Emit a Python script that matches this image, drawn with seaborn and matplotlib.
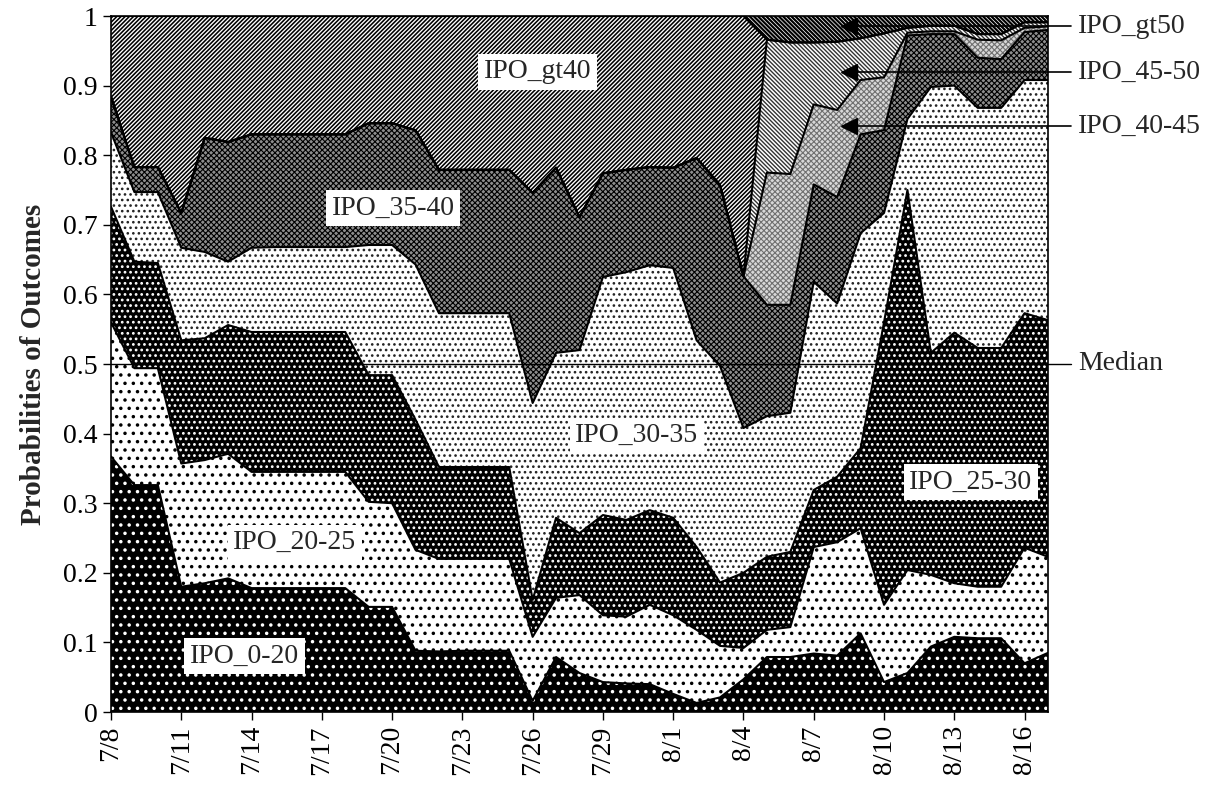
import numpy as np
import pandas as pd
import matplotlib
matplotlib.use("Agg")
import matplotlib.pyplot as plt
import seaborn as sns

# ---------------- data ----------------
dates = ["7/8", "7/9", "7/10", "7/11", "7/12", "7/13", "7/14", "7/15", "7/16", "7/17",
         "7/18", "7/19", "7/20", "7/21", "7/22", "7/23", "7/24", "7/25", "7/26", "7/27",
         "7/28", "7/29", "7/30", "7/31", "8/1", "8/2", "8/3", "8/4", "8/5", "8/6",
         "8/7", "8/8", "8/9", "8/10", "8/11", "8/12", "8/13", "8/14", "8/15", "8/16",
         "8/17"]

ipo_0_20 = [.367, .326, .326, .180, .185, .192, .178, .178, .178, .178, .178,
            .151, .151, .088, .087, .088, .088, .088, .016, .079, .056,
            .043, .041, .040, .026, .013, .021, .047, .079, .079, .084,
            .081, .113, .043, .056, .094, .108, .106, .106, .070, .085]
ipo_20_25 = [.193, .168, .168, .177, .177, .179, .167, .167, .167, .167, .167,
             .151, .149, .145, .133, .132, .132, .132, .092, .085, .112,
             .096, .096, .114, .113, .105, .074, .045, .039, .043, .153,
             .163, .151, .111, .148, .103, .077, .074, .074, .166, .138]
ipo_25_30 = [.166, .153, .151, .177, .175, .185, .201, .201, .201, .201, .201,
             .182, .184, .187, .132, .132, .132, .132, .053, .115, .089,
             .144, .139, .136, .140, .119, .091, .108, .105, .108, .082,
             .094, .115, .406, .546, .319, .360, .343, .343, .337, .340]
ipo_30_35 = [.107, .100, .102, .133, .124, .091, .121, .122, .122, .122, .122,
             .187, .187, .223, .221, .221, .221, .221, .283, .237, .263,
             .342, .356, .352, .359, .297, .311, .208, .202, .200, .299,
             .249, .309, .157, .102, .382, .355, .345, .345, .335, .345]
ipo_35_40 = [.051, .036, .036, .050, .164, .172, .163, .162, .162, .162, .162,
             .175, .175, .193, .206, .206, .206, .206, .302, .266, .191,
             .149, .147, .141, .144, .262, .260, .218, .160, .155, .140,
             .153, .142, .119, .120, .076, .074, .072, .070, .069, .072]
ipo_40_45 = [0] * 28 + [.190, .188, .115, .125, .078, .076, .004, .004, .004,
                        .026, .027, .006, .005]
ipo_45_50 = [0] * 28 + [.191, .189, .089, .098, .060, .063, .007, .008, .008,
                        .008, .009, .008, .006]
ipo_gt40 = [.116, .217, .217, .283, .175, .181, .170, .170, .170, .170, .170,
            .154, .154, .164, .221, .221, .221, .221, .254, .218, .289,
            .226, .221, .217, .218, .204, .243, .374] + [0] * 13
ipo_gt50 = [0] * 28 + [.034, .038, .038, .037, .032, .025, .017, .014, .014,
                       .026, .026, .009, .009]

series_names = ["IPO_0-20", "IPO_20-25", "IPO_25-30", "IPO_30-35", "IPO_35-40",
                "IPO_40-45", "IPO_45-50", "IPO_gt40", "IPO_gt50"]
series_vals = [ipo_0_20, ipo_20_25, ipo_25_30, ipo_30_35, ipo_35_40,
               ipo_40_45, ipo_45_50, ipo_gt40, ipo_gt50]

# ---------------- style ----------------
sns.set_theme(style="ticks")
plt.rcParams["font.family"] = ["Liberation Serif", "DejaVu Serif"]
plt.rcParams["hatch.linewidth"] = 1.3
plt.rcParams["axes.edgecolor"] = "black"
plt.rcParams["axes.linewidth"] = 1.2

# (facecolor, hatch colour, hatch, hatch linewidth)
styles = [
    ("black", "white", "..", 1.3),
    ("white", "black", "..", 1.3),
    ("black", "white", "...", 1.2),
    ("white", "#222222", "...", 1.1),
    ("#8e8e8e", "black", "xxxxxx", 0.8),
    ("#d8d8d8", "#707070", "xxxxxx", 0.8),
    ("white", "#333333", "\\\\\\\\\\\\\\\\", 1.0),
    ("white", "black", "////////", 1.15),
    ("white", "black", "\\\\\\\\\\\\\\\\", 1.6),
]

fig = plt.figure(figsize=(12.15, 7.88), dpi=100)
ax = fig.add_axes([111 / 1215, 1 - 712 / 788, (1048 - 111) / 1215, (712 - 16) / 788])

x = np.arange(len(dates))
vals = np.array(series_vals, dtype=float)
upper = np.cumsum(vals, axis=0)
lower = upper - vals

for lo, up, (fc, hc, h, hlw) in zip(lower, upper, styles):
    with plt.rc_context({"hatch.linewidth": hlw}):
        coll = ax.fill_between(x, lo, up, linewidth=0, facecolor=fc, edgecolor=hc, hatch=h)
        if hasattr(coll, "set_hatch_linewidth"):
            coll.set_hatch_linewidth(hlw)

# outlines of the stacked layers
rows = []
for k in range(len(series_names) - 1):
    for i in x:
        rows.append({"x": i, "y": upper[k, i], "b": series_names[k]})
df = pd.DataFrame(rows)
sns.lineplot(data=df, x="x", y="y", hue="b", palette=["black"] * (len(series_names) - 1),
             legend=False, linewidth=1.5, ax=ax, sort=False)

ax.set_xlim(0, len(dates) - 1)
ax.set_ylim(0, 1)
ax.set_xticks(x[::3])
ax.set_xticklabels(dates[::3], rotation=90)
yt = np.round(np.arange(0, 1.01, 0.1), 1)
ax.set_yticks(yt)
ax.set_yticklabels(["0" if v == 0 else ("1" if v == 1 else f"{v:g}") for v in yt])
ax.tick_params(direction="out", length=6, width=1, labelsize=20, colors="black")
ax.set_xlabel("")
ax.set_ylabel("Probabilities of Outcomes", fontsize=21, fontweight="bold", labelpad=12)
for s in ax.spines.values():
    s.set_visible(True)
    s.set_color("black")

# in-chart labels
box = dict(facecolor="white", edgecolor="none", pad=4)
inner = [("IPO_gt40", 18.2, 0.92), ("IPO_35-40", 12.05, 0.724), ("IPO_30-35", 22.45, 0.397),
         ("IPO_25-30", 36.7, 0.33), ("IPO_20-25", 7.85, 0.243), ("IPO_0-20", 5.7, 0.080)]
for t, xx, yy in inner:
    ax.text(xx, yy, t, fontsize=20, ha="center", va="center", bbox=box, zorder=5)

# right-side callouts
call = [("IPO_gt50", 0.985), ("IPO_45-50", 0.919), ("IPO_40-45", 0.842)]
for t, yy in call:
    ax.plot([31.25, 41.0], [yy, yy], color="black", lw=1.2, clip_on=False, zorder=6)
    ax.plot([31.5], [yy], marker="<", color="black", markersize=11, clip_on=False, zorder=6)
    ax.text(41.3, yy, t, fontsize=20, ha="left", va="center", clip_on=False)
ax.plot([0, 41.0], [0.5, 0.5], color="black", lw=1.0, clip_on=False, zorder=6)
ax.text(41.3, 0.5, "Median", fontsize=20, ha="left", va="center", clip_on=False)

fig.savefig("out.png", dpi=100)
